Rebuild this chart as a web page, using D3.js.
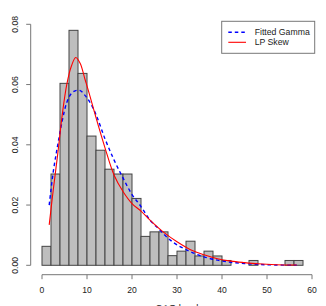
<!DOCTYPE html>
<html>
<head>
<meta charset="utf-8">
<script src="https://cdn.jsdelivr.net/npm/d3@7"></script>
<style>
  body { margin: 0; background: #fff; }
  svg { font-family: "Liberation Sans", Arial, sans-serif; }
</style>
</head>
<body>
<svg id="chart" width="326" height="306"></svg>
<script>
// histogram densities, bins of width 2 starting at 0
const binStarts = d3.range(0, 58, 2);
const density = [0.0063, 0.0303, 0.0604, 0.0780, 0.0637, 0.0429, 0.0382, 0.0319, 0.0303, 0.0303,
                 0.0222, 0.0096, 0.0111, 0.0111, 0.0032, 0.0047, 0.0080, 0.0031, 0.0047, 0.0031,
                 0.0016, 0, 0, 0.0016, 0, 0, 0, 0.0016, 0.0016];

// curves
const gammaX = [1.6, 2.5, 3.5, 4.5, 5.5, 6.5, 7.5, 8.5, 9.5, 10.5, 12, 14, 16, 18, 20, 22, 24, 26, 28, 30, 33, 36, 39, 42, 45, 48, 52, 56.6];
const gammaY = [0.020, 0.031, 0.040, 0.048, 0.054, 0.057, 0.058, 0.058, 0.0565, 0.0545, 0.050, 0.042, 0.035, 0.029, 0.0235, 0.0195, 0.015, 0.012, 0.009, 0.0068, 0.0045, 0.0028, 0.0017, 0.001, 0.0006, 0.0003, 0.0001, 0.00005];

const skewX = [1.6, 2.5, 3.5, 4.5, 5.5, 6.5, 7.5, 8.5, 9.5, 10.5, 12, 14, 16, 18, 20, 22, 24, 27, 30, 33, 36, 39, 42, 45, 48, 52, 56.6];
const skewY = [0.0134, 0.025, 0.037, 0.050, 0.060, 0.066, 0.069, 0.067, 0.062, 0.057, 0.049, 0.039, 0.030, 0.0245, 0.0205, 0.018, 0.015, 0.011, 0.0078, 0.0052, 0.0035, 0.0022, 0.0014, 0.0009, 0.0005, 0.0002, 0.0001];

const xTicks = [0, 10, 20, 30, 40, 50, 60];
const yTicks = [0, 0.02, 0.04, 0.06, 0.08];
const legendLabels = ["Fitted Gamma", "LP Skew"];

const svg = d3.select("#chart");

const x = d3.scaleLinear().domain([0, 60]).range([42, 312]);
const y = d3.scaleLinear().domain([0, 0.08]).range([265.3, 24.3]);

// bars
svg.append("g").selectAll("rect")
    .data(density.map((d, i) => ({x0: binStarts[i], x1: binStarts[i] + 2, v: d})))
    .enter().append("rect")
    .attr("x", d => x(d.x0))
    .attr("y", d => y(d.v))
    .attr("width", d => x(d.x1) - x(d.x0))
    .attr("height", d => y(0) - y(d.v))
    .attr("fill", "#bebebe")
    .attr("stroke", "#444")
    .attr("stroke-width", 1);

const line = d3.line()
    .x(d => x(d[0]))
    .y(d => y(d[1]))
    .curve(d3.curveCatmullRom);

svg.append("path")
    .datum(gammaX.map((v, i) => [v, gammaY[i]]))
    .attr("d", line)
    .attr("fill", "none")
    .attr("stroke", "#0000ff")
    .attr("stroke-width", 1.4)
    .attr("stroke-dasharray", "3.5,3");

svg.append("path")
    .datum(skewX.map((v, i) => [v, skewY[i]]))
    .attr("d", line)
    .attr("fill", "none")
    .attr("stroke", "#ff0000")
    .attr("stroke-width", 1.1);

// x axis
const xAxis = svg.append("g").attr("transform", "translate(0,274.7)");
xAxis.append("line")
    .attr("x1", x(0)).attr("x2", x(60))
    .attr("stroke", "#777");
xAxis.selectAll(".tk").data(xTicks).enter().append("line")
    .attr("x1", d => x(d)).attr("x2", d => x(d))
    .attr("y1", 0).attr("y2", 4.5)
    .attr("stroke", "#777");
xAxis.selectAll("text").data(xTicks).enter().append("text")
    .attr("x", d => x(d))
    .attr("y", 18.5)
    .attr("text-anchor", "middle")
    .attr("font-size", 8.6)
    .attr("fill", "#222")
    .text(d => d);

// y axis
const yAxis = svg.append("g").attr("transform", "translate(30.7,0)");
yAxis.append("line")
    .attr("y1", y(0)).attr("y2", y(0.08))
    .attr("stroke", "#777");
yAxis.selectAll(".tk").data(yTicks).enter().append("line")
    .attr("y1", d => y(d)).attr("y2", d => y(d))
    .attr("x1", 0).attr("x2", -4.5)
    .attr("stroke", "#777");
yAxis.selectAll("text").data(yTicks).enter().append("text")
    .attr("transform", d => `translate(-12.7,${y(d)}) rotate(-90)`)
    .attr("text-anchor", "middle")
    .attr("font-size", 8.6)
    .attr("fill", "#222")
    .text(d3.format(".2f"));

// x label (mostly cut off)
svg.append("text")
    .attr("x", 177)
    .attr("y", 311)
    .attr("text-anchor", "middle")
    .attr("font-size", 9.5)
    .attr("fill", "#222")
    .text("CAG level");

// legend
const legend = svg.append("g");
legend.append("rect")
    .attr("x", 221.7).attr("y", 21.3)
    .attr("width", 93).attr("height", 32)
    .attr("fill", "#fff")
    .attr("stroke", "#777");
const rows = legend.selectAll(".row").data(legendLabels).enter().append("g")
    .attr("transform", (d, i) => `translate(0,${32.3 + i * 10})`);
rows.append("line")
    .attr("x1", 228.3).attr("x2", 246)
    .attr("stroke", (d, i) => i === 0 ? "#0000ff" : "#ff0000")
    .attr("stroke-width", (d, i) => i === 0 ? 1.4 : 1.1)
    .attr("stroke-dasharray", (d, i) => i === 0 ? "3.5,3" : null);
rows.append("text")
    .attr("x", 254.7)
    .attr("y", 3)
    .attr("font-size", 8.7)
    .attr("fill", "#222")
    .text(d => d);
</script>
</body>
</html>
